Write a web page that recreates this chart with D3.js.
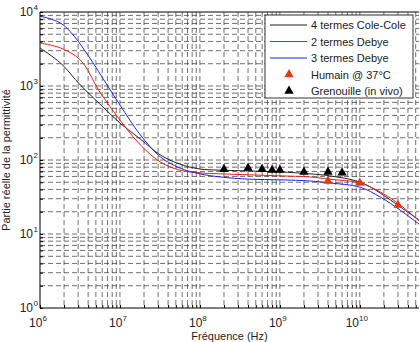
<!DOCTYPE html>
<html>
<head>
<meta charset="utf-8">
<script src="https://cdn.jsdelivr.net/npm/d3@7/dist/d3.min.js"></script>
<style>
  body { margin: 0; background: #fff; }
  svg { font-family: "Liberation Sans", Arial, sans-serif; }
</style>
</head>
<body>
<svg id="chart" width="420" height="342"></svg>
<script>
var ccF = [1e6, 1.8e6, 3.2e6, 5.6e6, 1e7, 1.8e7, 3.2e7, 5.6e7, 1e8, 1.8e8, 4.2e8, 1e9, 2.4e9, 4.2e9, 1e10, 1.8e10, 3.2e10, 5.5e10];
var ccV = [3260, 2050, 1030, 571, 316, 192, 117, 88, 75.5, 73, 71, 69, 65, 61, 50.4, 35.8, 23.2, 15.5];

// 2 termes Debye
var d2F = [1e6, 1.8e6, 3.2e6, 5.6e6, 1e7, 1.8e7, 3.2e7, 5.6e7, 1e8, 1.8e8, 4.2e8, 1e9, 2.4e9, 4.2e9, 1e10, 1.8e10, 3.2e10, 5.5e10];
var d2V = [3810, 3265, 2245, 830, 347, 160, 94, 73, 67, 65, 63, 61, 59, 55, 49, 37, 24.7, 15];

// 3 termes Debye
var d3F = [1e6, 1.8e6, 2.6e6, 4.2e6, 6.9e6, 1e7, 1.33e7, 1.8e7, 3.2e7, 5.6e7, 1e8, 1.8e8, 4.2e8, 1e9, 2.4e9, 4.2e9, 1e10, 1.8e10, 3.2e10, 5.5e10];
var d3V = [8830, 7100, 4890, 2390, 1032, 553, 347, 218, 110, 78, 65, 59, 55, 54, 52, 49, 43, 31.6, 21, 13.6];

// measurements
var humainF = [4e9, 1e10, 3e10];
var humainV = [52, 49, 24.6];
var grenouilleF = [2e8, 4e8, 6e8, 8e8, 1e9, 2e9, 4e9, 6e9];
var grenouilleV = [75, 78, 75, 73, 73, 69, 69, 67];

var xMajor = [1e6, 1e7, 1e8, 1e9, 1e10];
var xExp = ["6", "7", "8", "9", "10"];
var yMajor = [1, 10, 100, 1000, 10000];
var yExp = ["0", "1", "2", "3", "4"];

var legendNames = ["4 termes Cole-Cole", "2 termes Debye", "3 termes Debye", "Humain @ 37°C", "Grenouille (in vivo)"];

var svg = d3.select("#chart");
var pLeft = 40, pRight = 419, pTop = 12, pBottom = 308;

var x = d3.scaleLog().domain([1e6, 5.5e10]).range([pLeft, pRight]);
var y = d3.scaleLog().domain([1, 1e4]).range([pBottom, pTop]);

// minor values for the grid
function minors(lo, hi) {
  var out = [];
  for (var e = Math.floor(Math.log10(lo)); e <= Math.ceil(Math.log10(hi)); e++) {
    for (var m = 1; m < 10; m++) {
      var v = m * Math.pow(10, e);
      if (v > lo * 1.0001 && v < hi * 0.9999) out.push(v);
    }
  }
  return out;
}

var grid = svg.append("g")
  .attr("stroke", "#000")
  .attr("stroke-width", 0.7)
  .attr("stroke-dasharray", "5,3")
  .attr("opacity", 0.8);

grid.selectAll(".gx").data(minors(1e6, 5.5e10)).enter().append("line")
  .attr("x1", function(d) { return x(d); })
  .attr("x2", function(d) { return x(d); })
  .attr("y1", pTop).attr("y2", pBottom);

grid.selectAll(".gy").data(minors(1, 1e4)).enter().append("line")
  .attr("y1", function(d) { return y(d); })
  .attr("y2", function(d) { return y(d); })
  .attr("x1", pLeft).attr("x2", pRight);

// curves
var line = d3.line()
  .x(function(d) { return x(d[0]); })
  .y(function(d) { return y(d[1]); })
  .curve(d3.curveCatmullRom.alpha(0.5));

var series = [
  { f: ccF, v: ccV, color: "#222" },
  { f: d2F, v: d2V, color: "#e8201a" },
  { f: d3F, v: d3V, color: "#2020f0" }
];

series.forEach(function(s) {
  svg.append("path")
    .datum(s.f.map(function(f, i) { return [f, s.v[i]]; }))
    .attr("fill", "none")
    .attr("stroke", s.color)
    .attr("stroke-width", 1)
    .attr("d", line);
});

// markers
var tri = d3.symbol().type(d3.symbolTriangle).size(38);

svg.selectAll(".hum").data(humainF).enter().append("path")
  .attr("d", tri)
  .attr("fill", "#e33a12")
  .attr("transform", function(d, i) { return "translate(" + x(d) + "," + y(humainV[i]) + ")"; });

svg.selectAll(".gre").data(grenouilleF).enter().append("path")
  .attr("d", tri)
  .attr("fill", "#000")
  .attr("transform", function(d, i) { return "translate(" + x(d) + "," + y(grenouilleV[i]) + ")"; });

// axes
svg.append("g")
  .attr("transform", "translate(0," + pBottom + ")")
  .call(d3.axisBottom(x).tickValues(minors(1e6, 5.5e10).concat(xMajor)).tickSize(-3).tickFormat(""))
  .call(function(g) { g.select(".domain").remove(); });

svg.append("g")
  .attr("transform", "translate(" + pLeft + ",0)")
  .call(d3.axisLeft(y).tickValues(minors(1, 1e4).concat(yMajor)).tickSize(-3).tickFormat(""))
  .call(function(g) { g.select(".domain").remove(); });

svg.append("path")
  .attr("d", "M" + pLeft + "," + pTop + "V" + pBottom + "H" + pRight)
  .attr("fill", "none")
  .attr("stroke", "#000")
  .attr("stroke-width", 1);
svg.append("line")
  .attr("x1", pLeft).attr("x2", pRight).attr("y1", pTop).attr("y2", pTop)
  .attr("stroke", "#000").attr("stroke-width", 1);

// tick labels
xMajor.forEach(function(v, i) {
  var t = svg.append("text")
    .attr("x", x(v) - (xExp[i].length > 1 ? 3 : 2))
    .attr("y", 327)
    .attr("text-anchor", "middle")
    .attr("font-size", 12)
    .attr("fill", "#222");
  t.append("tspan").text("10");
  t.append("tspan").attr("dy", -6).attr("font-size", 8).text(xExp[i]);
});

yMajor.forEach(function(v, i) {
  svg.append("text")
    .attr("x", 33)
    .attr("y", y(v) + 4)
    .attr("text-anchor", "end")
    .attr("font-size", 12)
    .attr("fill", "#222")
    .text("10");
  svg.append("text")
    .attr("x", 33.5)
    .attr("y", y(v) - 2)
    .attr("font-size", 8)
    .attr("fill", "#222")
    .text(yExp[i]);
});

svg.append("text")
  .attr("x", (pLeft + pRight) / 2)
  .attr("y", 340)
  .attr("text-anchor", "middle")
  .attr("font-size", 11)
  .attr("fill", "#222")
  .text("Fréquence (Hz)");

svg.append("text")
  .attr("transform", "translate(10," + ((pTop + pBottom) / 2) + ") rotate(-90)")
  .attr("text-anchor", "middle")
  .attr("font-size", 11)
  .attr("fill", "#222")
  .text("Partie réelle de la permittivité");

// legend
var lg = svg.append("g");
lg.append("rect")
  .attr("x", 265).attr("y", 15).attr("width", 148).attr("height", 83)
  .attr("fill", "#fff").attr("stroke", "#333").attr("stroke-width", 1);

legendNames.forEach(function(name, i) {
  var yy = 25 + i * 16.5;
  if (i < 3) {
    lg.append("line")
      .attr("x1", 270).attr("x2", 307).attr("y1", yy).attr("y2", yy)
      .attr("stroke", series[i].color).attr("stroke-width", 1);
  } else {
    lg.append("path")
      .attr("d", tri)
      .attr("fill", i === 3 ? "#e33a12" : "#000")
      .attr("transform", "translate(289," + yy + ")");
  }
  lg.append("text")
    .attr("x", 311).attr("y", yy + 4)
    .attr("font-size", 11)
    .attr("fill", "#222")
    .text(name);
});
</script>
</body>
</html>
